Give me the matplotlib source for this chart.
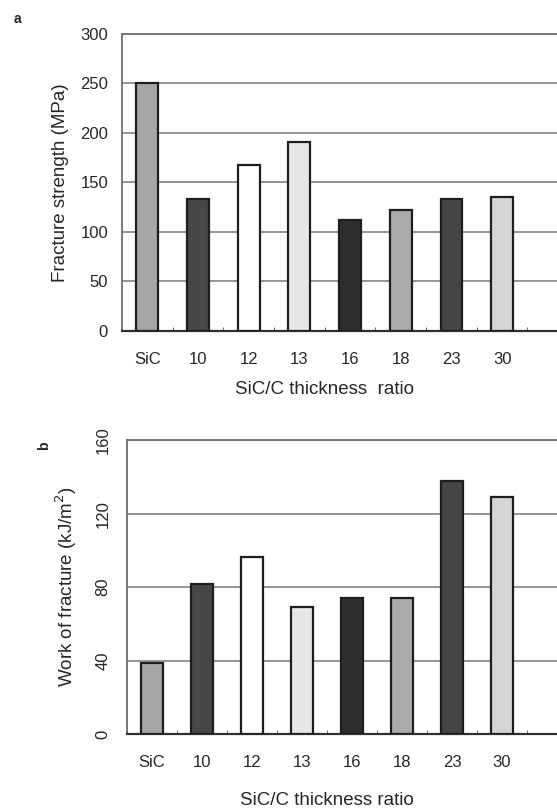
import matplotlib
matplotlib.use("Agg")
import matplotlib.pyplot as plt
import numpy as np

plt.rcParams['font.family'] = ['Liberation Sans', 'DejaVu Sans']

categorias = ["SiC", "10", "12", "13", "16", "18", "23", "30"]
resistencia = [250, 133, 168, 191, 112, 122, 133, 135]
trabajo = [38.5, 81.5, 96.5, 69, 74, 74, 138, 129]
colores = ["#a6a6a6", "#474747", "#ffffff", "#e6e6e6", "#2e2e2e", "#ababab", "#454545", "#d4d4d4"]

ticks_a = [0, 50, 100, 150, 200, 250, 300]
ticks_b = [0, 40, 80, 120, 160]

texto = "#262626"

fig = plt.figure(figsize=(5.57, 8.09), dpi=100)


def panel(ax, valores, ticks, ylabel, rot, ypad, lpad):
    x = np.arange(len(categorias))
    ax.set_axisbelow(True)
    ax.yaxis.grid(True, color="#8c8c8c", linewidth=1.3)
    ax.bar(x, valores, width=0.43, color=colores, edgecolor="#1e1e1e", linewidth=1.6, zorder=3)
    ax.set_xlim(-0.5, 8.5)
    ax.set_ylim(ticks[0], ticks[-1])
    ax.set_yticks(ticks)
    ax.set_xticks(x)
    ax.set_xticklabels(categorias)
    ax.set_xticks(np.arange(-0.5, 8.5, 1.0), minor=True)
    ax.tick_params(axis="x", which="major", length=0, pad=15, labelsize=12, labelcolor=texto)
    ax.tick_params(axis="x", which="minor", length=3, direction="in", color="#555555")
    ax.tick_params(axis="y", length=0, pad=ypad, labelsize=12, labelcolor=texto, labelrotation=rot)
    if rot:
        for t in ax.get_yticklabels():
            t.set_va("center")
    for s in ["top", "left"]:
        ax.spines[s].set_color("#707070")
        ax.spines[s].set_linewidth(1.3)
    ax.spines["bottom"].set_color("#303030")
    ax.spines["bottom"].set_linewidth(1.6)
    ax.spines["right"].set_visible(False)
    ax.set_ylabel(ylabel, fontsize=13.5, color=texto, labelpad=lpad)


ax1 = fig.add_axes([0.219, 0.591, 0.819, 0.367])
panel(ax1, resistencia, ticks_a, "Fracture strength (MPa)", 0, 10, 8)
ax1.set_xlabel("SiC/C thickness  ratio", fontsize=13.5, color=texto)
ax1.xaxis.set_label_coords(4 / 9, -0.17)

ax2 = fig.add_axes([0.228, 0.0927, 0.808, 0.363])
panel(ax2, trabajo, ticks_b, "Work of fracture (kJ/m$^2$)", 90, 12, 12)
ax2.set_xlabel("SiC/C thickness ratio", fontsize=13.5, color=texto)
ax2.xaxis.set_label_coords(4 / 9, -0.198)

fig.text(0.024, 0.972, "a", fontsize=10, fontweight="bold", color=texto)
fig.text(0.066, 0.448, "b", fontsize=10, fontweight="bold", color=texto, rotation=90)

fig.savefig("out.png", dpi=100)
